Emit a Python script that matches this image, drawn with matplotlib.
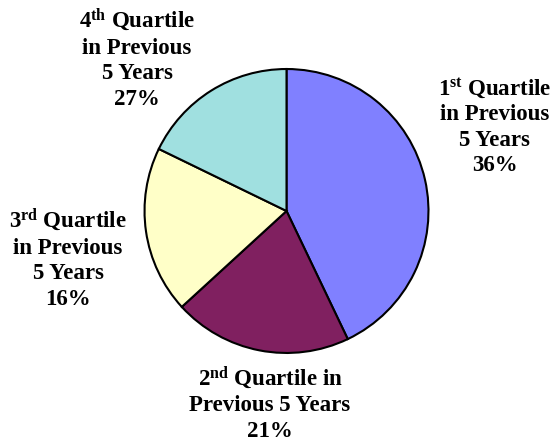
import matplotlib
matplotlib.use('Agg')
from matplotlib import pyplot as plt

plt.rcParams['font.family'] = 'Liberation Serif'
plt.rcParams['font.weight'] = 'bold'
plt.rcParams['mathtext.fontset'] = 'custom'
plt.rcParams['mathtext.rm'] = 'Liberation Serif:bold'
plt.rcParams['mathtext.it'] = 'Liberation Serif:bold'
plt.rcParams['mathtext.bf'] = 'Liberation Serif:bold'

# slice sizes as drawn in the picture, and the printed labels
sizes = [42.9, 20.3, 19.0, 17.8]
labels = [
    '$1^{\\mathrm{st}}$ Quartile\nin Previous\n5 Years\n36%',
    '$2^{\\mathrm{nd}}$ Quartile in\nPrevious 5 Years\n21%',
    '$3^{\\mathrm{rd}}$ Quartile\nin Previous\n5 Years\n16%',
    '$4^{\\mathrm{th}}$ Quartile\nin Previous\n5 Years\n27%',
]
colors = ['#8080FF', '#802060', '#FFFFC8', '#A0E0E0']
label_pos = [(1.468, 0.599), (-0.116, -1.352), (-1.539, -0.331), (-1.053, 1.077)]

fig = plt.figure(figsize=(5.52, 4.42), dpi=100)
ax = fig.add_axes([0, 0, 1, 1])
ax.pie(sizes, colors=colors, startangle=90, counterclock=False,
       wedgeprops={'edgecolor': 'black', 'linewidth': 1.5})

for lab, (x, y) in zip(labels, label_pos):
    ax.text(x, y, lab, ha='center', va='center', multialignment='center',
            fontsize=16.5, fontweight='bold', linespacing=1.28)

ax.set_xlim(-2.018, 1.870)
ax.set_ylim(-1.627, 1.486)
ax.set_aspect('equal')
ax.axis('off')

plt.savefig('out.png', dpi=100)
